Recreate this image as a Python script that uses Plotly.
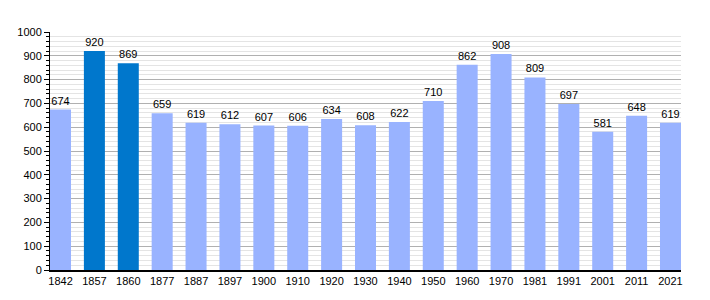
import plotly.graph_objects as go

years = ["1842", "1857", "1860", "1877", "1887", "1897", "1900", "1910", "1920", "1930",
         "1940", "1950", "1960", "1970", "1981", "1991", "2001", "2011", "2021"]
population = [674, 920, 869, 659, 619, 612, 607, 606, 634, 608,
              622, 710, 862, 908, 809, 697, 581, 648, 619]
highlight = ["1857", "1860"]

LIGHT = "#99b3ff"
DARK = "#0077cc"
colors = [DARK if y in highlight else LIGHT for y in years]

bargap = 0.38
fig = go.Figure()
fig.add_trace(go.Bar(
    x=years, y=population, marker=dict(color=colors, line=dict(width=0)),
    text=[str(v) for v in population], textposition="outside",
    textfont=dict(family="Liberation Sans, Arial, sans-serif", size=11, color="#000"),
    cliponaxis=False,
))

fig.update_layout(
    width=710, height=300,
    margin=dict(l=50, r=29, t=32, b=30),
    paper_bgcolor="white", plot_bgcolor="white",
    bargap=bargap, showlegend=False,
    font=dict(family="Liberation Sans, Arial, sans-serif", size=11, color="#000"),
    uniformtext=dict(minsize=11, mode="show"),
)
fig.update_xaxes(
    type="category", range=[-(1 - bargap) / 2, len(years) - 1 + (1 - bargap) / 2],
    showline=True, linecolor="#000", linewidth=1.5, ticks="", showgrid=False,
    tickfont=dict(size=11), ticklen=0,
)
fig.update_yaxes(
    range=[0, 1000], dtick=100, showline=True, linecolor="#000", linewidth=1,
    ticks="outside", ticklen=5, tickcolor="#000", tickwidth=1,
    showgrid=True, gridcolor="#b0b0b0", gridwidth=1,
    minor=dict(dtick=20, ticks="outside", ticklen=3, tickcolor="#000",
               showgrid=True, gridcolor="#e4e4e4", gridwidth=1),
    zeroline=False, tickfont=dict(size=11),
)

fig.write_html("out.html")
